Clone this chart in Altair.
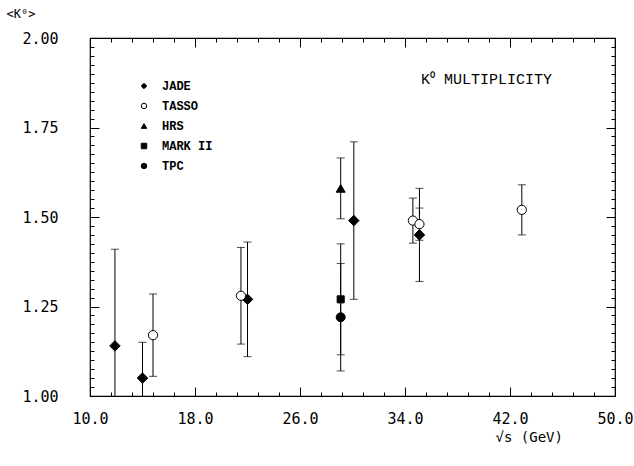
import altair as alt
import pandas as pd

# K0 multiplicity measurements versus centre-of-mass energy
experiment = ["JADE", "JADE", "TASSO", "TASSO", "JADE", "HRS", "MARK II", "TPC",
              "JADE", "TASSO", "TASSO", "JADE", "TASSO"]
energy = [11.9, 14.0, 14.8, 21.5, 22.0, 29.1, 29.1, 29.1, 30.1, 34.6, 35.1, 35.1, 42.9]
kzero = [1.14, 1.05, 1.17, 1.28, 1.27, 1.58, 1.27, 1.22, 1.49, 1.49, 1.48, 1.45, 1.52]
error = [0.27, 0.10, 0.115, 0.135, 0.16, 0.085, 0.155, 0.15, 0.22, 0.063, 0.045, 0.13, 0.07]

groups = ["JADE", "TASSO", "HRS", "MARK II", "TPC"]
group_shapes = ["diamond", "circle", "triangle-up", "square", "circle"]
group_fills = ["black", "white", "black", "black", "black"]
group_sizes = [110, 85, 80, 50, 80]

x_major = [10.0, 18.0, 26.0, 34.0, 42.0, 50.0]
y_major = [1.00, 1.25, 1.50, 1.75, 2.00]
x_minor = [round(10 + 1.6 * k, 2) for k in range(26)]
y_minor = [round(1 + 0.025 * k, 3) for k in range(41)]

W, H = 525, 358
MONO = "DejaVu Sans Mono"

df = pd.DataFrame({"experiment": experiment, "energy": energy, "kzero": kzero, "error": error})
df["lo"] = df["kzero"] - df["error"]
df["hi"] = df["kzero"] + df["error"]

xs = alt.Scale(domain=[10, 50], nice=False, zero=False)
ys = alt.Scale(domain=[1, 2], nice=False, zero=False)

base = alt.Chart(df)

# vertical error bars with caps, clipped at the frame
bars = base.mark_rule(clip=True, color="black", strokeWidth=1).encode(
    x=alt.X("energy:Q", scale=xs, axis=None),
    y=alt.Y("lo:Q", scale=ys, axis=None),
    y2="hi:Q",
)
caps_hi = base.mark_tick(clip=True, color="black", orient="horizontal", size=8, thickness=1).encode(
    x=alt.X("energy:Q", scale=xs, axis=None),
    y=alt.Y("hi:Q", scale=ys, axis=None),
)
caps_lo = base.mark_tick(clip=True, color="black", orient="horizontal", size=8, thickness=1).encode(
    x=alt.X("energy:Q", scale=xs, axis=None),
    y=alt.Y("lo:Q", scale=ys, axis=None),
)

# one marker layer per experiment
markers = [
    base.transform_filter(alt.datum.experiment == g).mark_point(
        shape=shp, fill=fc, filled=True, stroke="black", strokeWidth=1, size=sz, opacity=1,
    ).encode(
        x=alt.X("energy:Q", scale=xs, axis=None),
        y=alt.Y("kzero:Q", scale=ys, axis=None),
    )
    for g, shp, fc, sz in zip(groups, group_shapes, group_fills, group_sizes)
]

# main labelled axes and the key; its own marks stay hidden
legend = alt.Legend(
    orient="top-left", offset=36, padding=6, title=None, symbolOpacity=1,
    symbolSize=30, symbolOffset=6, symbolStrokeWidth=1,
    labelFont="Liberation Mono", labelFontSize=12, labelFontWeight="bold",
    labelColor="black", labelOffset=12, rowPadding=8,
)
key = base.mark_point(filled=True, stroke="black", strokeWidth=1, size=30, opacity=0).encode(
    x=alt.X("energy:Q", scale=xs, axis=alt.Axis(
        orient="bottom", values=x_major, format=".1f", ticks=False, domain=False, grid=False,
        labelFlush=False, labelOverlap=False,
        labelFont=MONO, labelFontSize=15, labelColor="black", labelPadding=15,
        title="√s (GeV)", titleFont=MONO, titleFontSize=14, titleFontWeight="normal",
        titleColor="black", titleAlign="left", titleBaseline="middle",
        titleX=405, titleY=41, titleAnchor="start")),
    y=alt.Y("kzero:Q", scale=ys, axis=alt.Axis(
        orient="left", values=y_major, format=".2f", ticks=False, domain=False, grid=False,
        labelFlush=False, labelOverlap=False,
        labelFont=MONO, labelFontSize=15, labelColor="black", labelPadding=32,
        title="<K⁰>", titleFont=MONO, titleFontSize=12, titleFontWeight="normal",
        titleColor="black", titleAngle=0, titleAlign="left", titleBaseline="middle",
        titleX=-84, titleY=-25)),
    shape=alt.Shape("experiment:N", scale=alt.Scale(domain=groups, range=group_shapes), legend=legend),
    fill=alt.Fill("experiment:N", scale=alt.Scale(domain=groups, range=group_fills), legend=legend),
)


def inward_ticks(x_orient, y_orient, xvals, yvals, length):
    """Unlabelled axes pushed across the plot so their ticks point inward."""
    return base.mark_point(opacity=0).encode(
        x=alt.X("energy:Q", scale=xs, axis=alt.Axis(
            orient=x_orient, offset=-H, values=xvals, tickSize=length, tickColor="black",
            tickWidth=1, labels=False, domain=False, grid=False, title=None)),
        y=alt.Y("kzero:Q", scale=ys, axis=alt.Axis(
            orient=y_orient, offset=-W, values=yvals, tickSize=length, tickColor="black",
            tickWidth=1, labels=False, domain=False, grid=False, title=None)),
    )


frame_ticks = [
    inward_ticks("top", "right", x_major, y_major, 9),      # bottom and left edges
    inward_ticks("top", "right", x_minor, y_minor, 4),
    inward_ticks("bottom", "left", x_major, y_major, 9),    # top and right edges
    inward_ticks("bottom", "left", x_minor, y_minor, 4),
]

title_df = pd.DataFrame({"label": ["K⁰ MULTIPLICITY"]})
title = alt.Chart(title_df).mark_text(
    font="Liberation Mono", fontSize=15, color="black",
    align="left", baseline="middle",
).encode(text="label:N", x=alt.value(331), y=alt.value(41))

chart = alt.layer(
    *frame_ticks, key, bars, caps_hi, caps_lo, *markers, title
).resolve_axis(
    x="independent", y="independent"
).properties(
    width=W, height=H,
    autosize=alt.AutoSizeParams(type="none"),
    padding={"left": 90, "top": 38, "right": 19, "bottom": 70},
    background="white",
).configure_view(
    stroke="black", strokeWidth=1.2
)

chart.save("out.html", embed_options={"renderer": "svg", "actions": False})
